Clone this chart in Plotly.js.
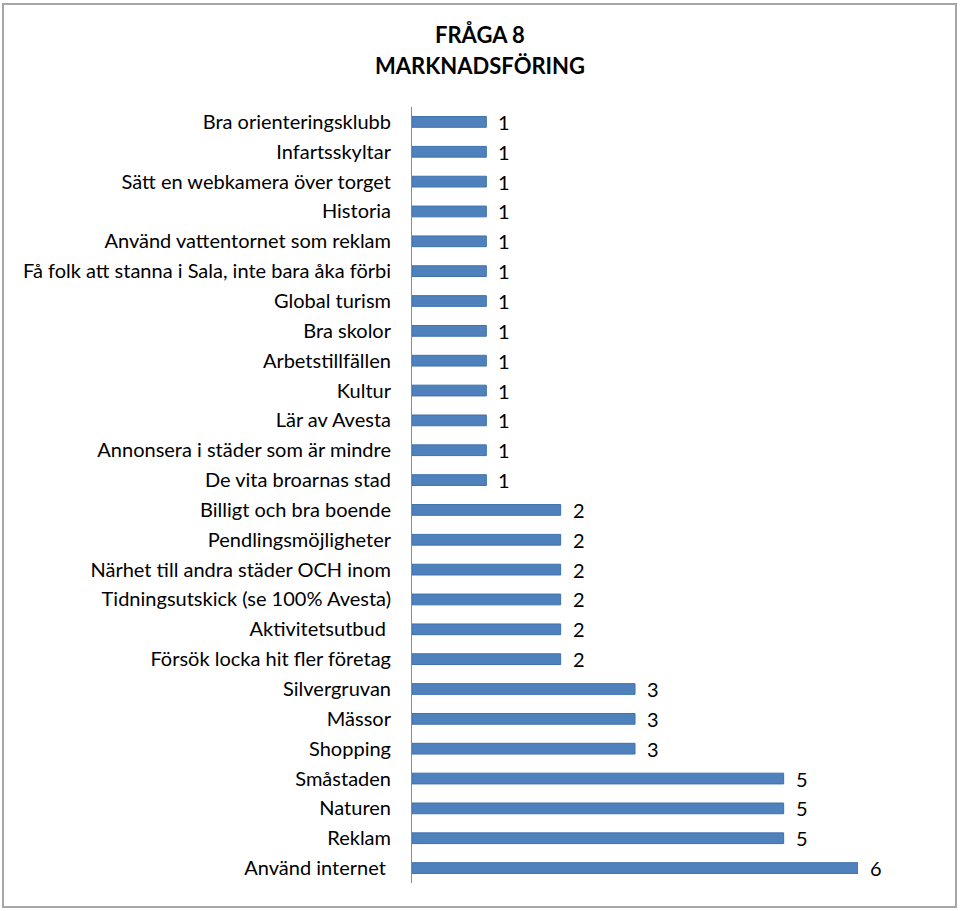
<!DOCTYPE html>
<html>
<head>
<meta charset="utf-8">
<script src="https://cdn.plot.ly/plotly-3.0.1.min.js"></script>
<style>
  html, body { margin: 0; padding: 0; background: #fff; }
  #wrap { position: relative; width: 960px; height: 911px; }
  #chart { width: 960px; height: 911px; }
  #frame { position: absolute; left: 2px; top: 3px; width: 951px; height: 901px;
           border: 2px solid #a6a6a6; pointer-events: none; }
</style>
</head>
<body>
<div id="wrap">
  <div id="chart"></div>
  <div id="frame"></div>
</div>
<script>
const categories = [
  "Bra orienteringsklubb",
  "Infartsskyltar",
  "Sätt en webkamera över torget",
  "Historia",
  "Använd vattentornet som reklam",
  "Få folk att stanna i Sala, inte bara åka förbi",
  "Global turism",
  "Bra skolor",
  "Arbetstillfällen",
  "Kultur",
  "Lär av Avesta",
  "Annonsera i städer som är mindre",
  "De vita broarnas stad",
  "Billigt och bra boende",
  "Pendlingsmöjligheter",
  "Närhet till andra städer OCH inom",
  "Tidningsutskick (se 100% Avesta)",
  "Aktivitetsutbud ",
  "Försök locka hit fler företag",
  "Silvergruvan",
  "Mässor",
  "Shopping",
  "Småstaden",
  "Naturen",
  "Reklam",
  "Använd internet "
];
const values = [1,1,1,1,1,1,1,1,1,1,1,1,1,2,2,2,2,2,2,3,3,3,5,5,5,6];
const titleLines = ["FRÅGA 8", "MARKNADSFÖRING"];

const FONT = "Lato, 'Open Sans', sans-serif";

const trace = {
  type: "bar",
  orientation: "h",
  x: values,
  y: categories,
  marker: { color: "#4f81bd", line: { color: "#3f71ad", width: 1 } },
  hoverinfo: "x+y"
};

const annotations = categories.map((c, i) => ({
  x: values[i], y: c, xref: "x", yref: "y",
  text: String(values[i]), showarrow: false,
  xanchor: "left", xshift: 10, yshift: 0,
  font: { family: FONT, size: 20, color: "#000" }
}));

// title lines, centred on the whole figure (x=480px)
const plotL = 412, plotW = 446, plotT = 107, plotH = 776;
[35, 66].forEach((py, k) => {
  annotations.push({
    xref: "paper", yref: "paper",
    x: (480 - plotL) / plotW, y: 1 + (plotT - py) / plotH,
    xanchor: "center", yanchor: "middle", showarrow: false,
    text: "<b>" + titleLines[k] + "</b>",
    font: { family: FONT, size: 22, color: "#000" }
  });
});

const layout = {
  width: 960, height: 911,
  margin: { l: plotL, r: 960 - plotL - plotW, t: plotT, b: 911 - plotT - plotH, pad: 0 },
  paper_bgcolor: "#fff", plot_bgcolor: "#fff",
  bargap: 0.64,
  showlegend: false,
  xaxis: { range: [0, 6], visible: false, fixedrange: true },
  yaxis: {
    type: "category", autorange: "reversed",
    showline: true, linecolor: "#8c8c8c", linewidth: 1,
    showgrid: false, zeroline: false, ticks: "",
    ticklabelstandoff: 16,
    tickfont: { family: FONT, size: 20, color: "#000" }
  },
  annotations: annotations
};

Plotly.newPlot("chart", [trace], layout, { displayModeBar: false, staticPlot: true });
</script>
</body>
</html>
